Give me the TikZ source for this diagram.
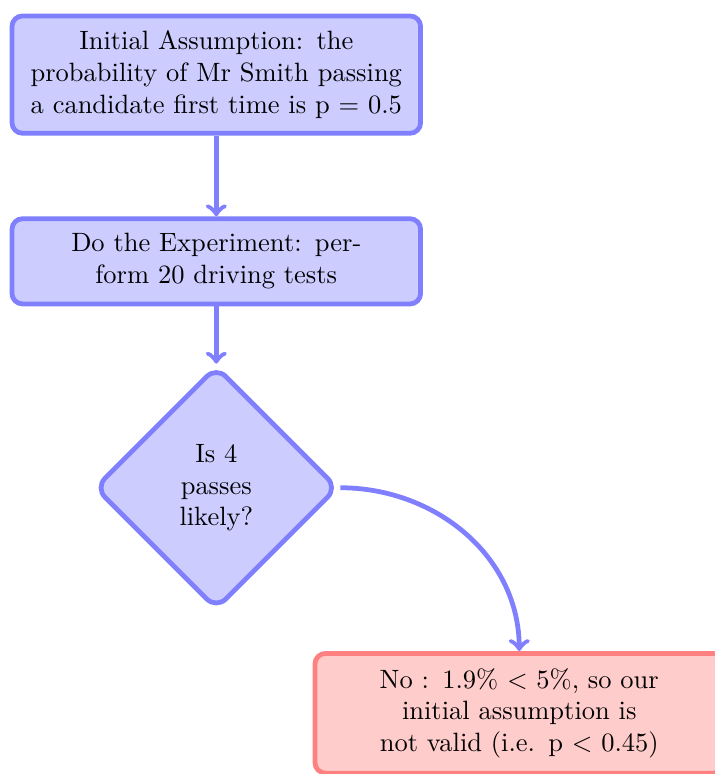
\documentclass[tikz,border=0pt]{standalone}
\usetikzlibrary{shapes.geometric,positioning}
\begin{document}
\begin{tikzpicture}[>=to,
	block/.style={rectangle,draw=blue!50,fill=blue!20,line width=1.8pt,rounded corners,text width=5cm,align=center,inner xsep=6pt,inner ysep=5.6pt},
	decision/.style={diamond,draw=blue!50,fill=blue!20,line width=1.8pt,rounded corners=5pt,minimum size=3.23cm,align=center,inner sep=1pt},
	result/.style={block,draw=red!50,fill=red!20},
	line/.style={draw=blue!50,line width=1.8pt,->}]
	\useasboundingbox (0,0) rectangle (9.48,-10.27);
	\node[block] (init) at (2.87,-0.99) {Initial Assumption: the\\probability of Mr Smith passing\\a candidate first time is p $=$ 0.5};
	\node[block,below=1.07cm of init] (expt) {Do the Experiment: per-\\form 20 driving tests};
	\node[decision,below=0.76cm of expt] (dec) {Is 4\\passes\\likely?};
	\node[result,below=0.52cm of dec,xshift=4.02cm] (no) {No : 1.9\% $<$ 5\%, so our\\initial assumption is\\not valid (i.e. p $<$ 0.45)};
	\draw[line] (init)--(expt);
	\draw[line] (expt)--(dec);
	\draw[line] (dec.east) to[out=0,in=90] (no.north);
\end{tikzpicture}
\end{document}
